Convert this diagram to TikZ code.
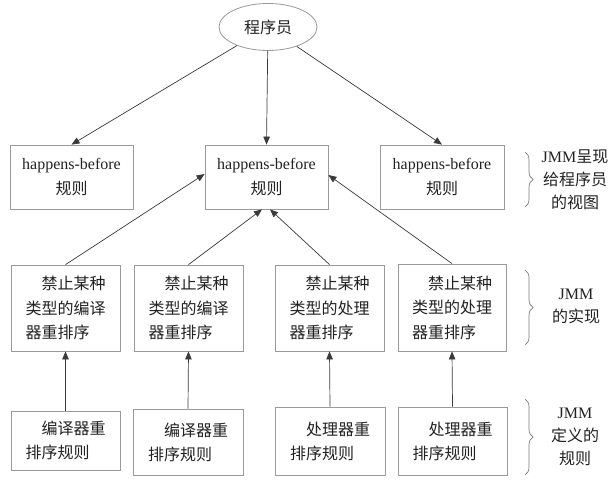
\documentclass[tikz,border=0pt]{standalone}
\usepackage{fontspec}
\setmainfont{Liberation Serif}
\newfontfamily\zh{Noto Sans CJK SC}
\usetikzlibrary{arrows.meta,shapes.geometric,decorations.pathreplacing}
\definecolor{boxgray}{HTML}{9A9A9A}
\definecolor{linegray}{HTML}{3A3A3A}
\definecolor{txt}{HTML}{222222}
\tikzset{
  base/.style={draw=boxgray, line width=0.8pt, inner sep=0pt, text=txt,
    font=\fontsize{16pt}{24.5pt}\selectfont},
  topbox/.style={base, rectangle, align=center, minimum height=64pt},
  midbox/.style={base, rectangle, align=left, font=\fontsize{16pt}{24.5pt}\selectfont\zh},
  lowbox/.style={base, rectangle, align=left, font=\fontsize{16pt}{24pt}\selectfont\zh},
  oval/.style={base, ellipse, minimum width=98pt, minimum height=47pt, font=\fontsize{16pt}{20pt}\selectfont\zh},
  conn/.style={draw=linegray, line width=0.7pt, -{Triangle[length=8pt,width=6.5pt]}},
  bracestyle/.style={draw=boxgray!80!black, line width=0.7pt, decorate,
    decoration={brace, amplitude=8pt}},
  side/.style={align=center, text=txt, inner sep=0pt,
    font=\fontsize{16pt}{23pt}\selectfont},
}
\begin{document}
\begin{tikzpicture}[x=1pt,y=-1pt]
\useasboundingbox (0,0) rectangle (615,486);
\fill[white] (0,0) rectangle (615,486);

% programmer
\node[oval] (e) at (268,27) {程序员};

% top row
\node[topbox, minimum width=123pt] (hb1) at (71.5,177) {happens-before\\{\zh 规则}};
\node[topbox, minimum width=123pt] (hb2) at (266.5,177) {happens-before\\{\zh 规则}};
\node[topbox, minimum width=124pt] (hb3) at (442,177) {happens-before\\{\zh 规则}};

% middle row
\node[midbox, minimum width=109pt, minimum height=86pt] (m1) at (65.5,308) {\hspace*{1em}禁止某种\\类型的编译\\器重排序};
\node[midbox, minimum width=109pt, minimum height=86pt] (m2) at (188.5,308) {\hspace*{1em}禁止某种\\类型的编译\\器重排序};
\node[midbox, minimum width=109pt, minimum height=86pt] (m3) at (329.5,308) {\hspace*{1em}禁止某种\\类型的处理\\器重排序};
\node[midbox, minimum width=108pt, minimum height=87pt] (m4) at (452,307.5) {\hspace*{1em}禁止某种\\类型的处理\\器重排序};

% bottom row
\node[lowbox, minimum width=109pt, minimum height=59pt] (b1) at (65.5,440.5) {\hspace*{1em}编译器重\\排序规则};
\node[lowbox, minimum width=110pt, minimum height=66pt] (b2) at (188,442) {\hspace*{1em}编译器重\\排序规则};
\node[lowbox, minimum width=110pt, minimum height=68pt] (b3) at (330,441) {\hspace*{1em}处理器重\\排序规则};
\node[lowbox, minimum width=109pt, minimum height=68pt] (b4) at (452.5,441) {\hspace*{1em}处理器重\\排序规则};

% connectors from programmer
\draw[conn] (e) -- (hb1.north);
\draw[conn] (e) -- (hb2.north);
\draw[conn] (e) -- (hb3.north);

% middle row to happens-before
\draw[conn] (m1.north) -- ([yshift=3pt]hb2.west);
\draw[conn] (m2.north) -- ([xshift=-4.5pt]hb2.south);
\draw[conn] (m3.north) -- ([xshift=3.5pt]hb2.south);
\draw[conn] (m4.north) -- ([yshift=2pt]hb2.east);

% bottom to middle
\draw[conn] (b1.north) -- (m1.south);
\draw[conn] (b2.north) -- (m2.south);
\draw[conn] (b3.north) -- (m3.south);
\draw[conn] (b4.north) -- (m4.south);

% braces
\coordinate (br1a) at (525,152);
\coordinate (br1b) at (525,207);
\coordinate (br2a) at (525,270);
\coordinate (br2b) at (525,345);
\coordinate (br3a) at (525,399);
\coordinate (br3b) at (525,475);
\draw[bracestyle] (br1a) -- (br1b);
\draw[bracestyle] (br2a) -- (br2b);
\draw[bracestyle] (br3a) -- (br3b);

\node[side] (l1) at (575,180) {JMM{\zh 呈现}\\{\zh 给程序员}\\{\zh 的视图}};
\node[side] (l2) at (576,306) {JMM\\{\zh 的实现}};
\node[side] (l3) at (575,437) {JMM\\{\zh 定义的}\\{\zh 规则}};
\end{tikzpicture}
\end{document}
